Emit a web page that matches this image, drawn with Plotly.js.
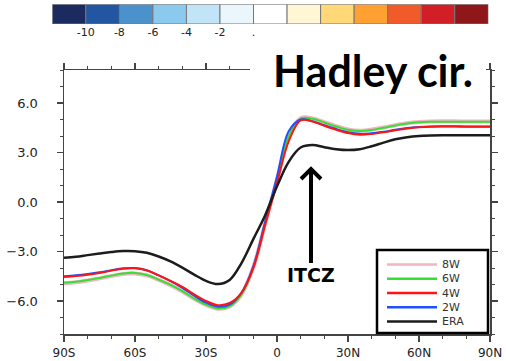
<!DOCTYPE html>
<html><head><meta charset="utf-8">
<script src="https://cdn.plot.ly/plotly-3.0.1.min.js"></script>
<style>html,body{margin:0;padding:0;background:#fff}#chart{width:506px;height:361px}</style>
</head><body><div id="chart"></div>
<script>
// ---- data ----
const lat = [-90,-85,-80,-75,-70,-65,-60,-55,-50,-45,-40,-35,-30,-25,-20,-15,-10,-5,0,5,10,15,20,25,30,35,40,45,50,55,60,65,70,75,80,85,90];
const w8  = [-4.93,-4.86,-4.76,-4.63,-4.49,-4.36,-4.33,-4.45,-4.72,-5.04,-5.42,-5.87,-6.24,-6.47,-6.33,-5.6,-3.95,-1.3,1.35,3.95,5.08,5.07,4.84,4.6,4.4,4.32,4.39,4.52,4.66,4.78,4.85,4.88,4.89,4.89,4.88,4.88,4.88];
const w6  = [-4.9,-4.83,-4.73,-4.6,-4.46,-4.33,-4.3,-4.42,-4.7,-5.02,-5.4,-5.85,-6.22,-6.45,-6.32,-5.6,-3.95,-1.25,1.4,4.0,5.05,5.05,4.82,4.58,4.38,4.3,4.37,4.5,4.64,4.76,4.83,4.86,4.87,4.87,4.86,4.86,4.86];
const w4  = [-4.55,-4.49,-4.41,-4.3,-4.16,-4.04,-4.02,-4.15,-4.45,-4.78,-5.15,-5.6,-6.0,-6.25,-6.12,-5.5,-4.0,-1.4,1.15,3.7,4.95,4.88,4.62,4.38,4.18,4.08,4.12,4.22,4.35,4.46,4.53,4.56,4.57,4.57,4.56,4.56,4.56];
const w2  = [-4.5,-4.44,-4.36,-4.26,-4.13,-4.02,-4.0,-4.13,-4.45,-4.8,-5.2,-5.68,-6.1,-6.35,-6.22,-5.5,-3.9,-1.2,1.55,4.3,5.0,4.9,4.65,4.42,4.23,4.13,4.16,4.26,4.38,4.49,4.55,4.58,4.59,4.59,4.58,4.58,4.58];
const era = [-3.38,-3.32,-3.22,-3.12,-3.03,-2.97,-2.98,-3.08,-3.3,-3.6,-3.98,-4.4,-4.78,-4.97,-4.72,-3.7,-2.25,-0.8,0.95,2.45,3.3,3.45,3.32,3.2,3.15,3.2,3.38,3.6,3.8,3.93,4.0,4.03,4.04,4.04,4.04,4.04,4.04];

const seriesNames  = ['8W','6W','4W','2W','ERA'];
const seriesValues = [w8, w6, w4, w2, era];
const seriesColors = ['#f4b4c0','#33e033','#ff1414','#1f4fff','#1c1c1c'];
const seriesWidths = [4, 2, 2, 2, 2.5];
const drawOrder    = [0, 1, 3, 2, 4];

const xTickVals = [-90,-60,-30,0,30,60,90];
const xTickText = ['90S','60S','30S','0','30N','60N','90N'];

const cbarColors = ['#1b2a5f','#2256a2','#4b92cd','#8bc9ee','#c1e4f6','#eaf5fc','#ffffff','#fff6d6','#ffd877','#ffa132','#f05b29','#d21f27','#8f1619'];
const cbarCenters = [-11,-9,-7,-5,-3,-1,1,3,5,7,9,11,13];
const cbarTickVals = [-10,-8,-6,-4,-2,0];
const cbarTickText = ['-10','-8','-6','-4','-2','.'];

// ---- helpers: pixel -> paper ----
const W = 506, H = 361;
const px = x => x / W;
const py = y => 1 - y / H;

const traces = [];
drawOrder.forEach(i => {
  traces.push({
    type: 'scatter', mode: 'lines', x: lat, y: seriesValues[i], name: seriesNames[i],
    line: {color: seriesColors[i], width: seriesWidths[i], shape: 'spline', smoothing: 1},
    xaxis: 'x', yaxis: 'y', showlegend: false, hoverinfo: 'skip'
  });
});
traces.push({
  type: 'bar', x: cbarCenters, y: cbarCenters.map(() => 1), width: 2,
  marker: {color: cbarColors, line: {color: '#777', width: 1}},
  xaxis: 'x2', yaxis: 'y2', showlegend: false, hoverinfo: 'skip'
});

const tickFont = {family: 'DejaVu Sans, Arial, sans-serif', size: 13, color: '#222'};
const xTickFont = {family: 'DejaVu Sans, Arial, sans-serif', size: 12, color: '#222'};

const shapes = [];
const annotations = [];

// legend box
shapes.push({type: 'rect', xref: 'paper', yref: 'paper', x0: px(377), x1: px(488), y0: py(333), y1: py(250),
  line: {color: '#000', width: 2.5}, fillcolor: '#fff', layer: 'above'});
const legFont = 11, legLine = legFont * 1.3, legMid = 293;
seriesNames.forEach((n, i) => {
  const yy = legMid + (i - 2) * legLine;
  shapes.push({type: 'line', xref: 'paper', yref: 'paper', x0: px(387), x1: px(437), y0: py(yy), y1: py(yy),
    line: {color: seriesColors[i], width: 2.5}, layer: 'above'});
});
annotations.push({xref: 'paper', yref: 'paper', x: px(441), y: py(legMid), xanchor: 'left', yanchor: 'middle',
  align: 'left', borderpad: 0, text: seriesNames.join('<br>'), showarrow: false,
  font: {family: 'DejaVu Sans, Arial, sans-serif', size: legFont, color: '#333'}});

// white box behind title
shapes.push({type: 'rect', xref: 'paper', yref: 'paper', x0: px(250), x1: px(486), y0: py(94), y1: py(44),
  line: {width: 0}, fillcolor: '#fff', layer: 'above'});
annotations.push({xref: 'paper', yref: 'paper', x: px(373), y: py(70), xanchor: 'center', yanchor: 'middle',
  text: '<b>Hadley cir.</b>', showarrow: false, font: {family: 'Lato, Carlito, sans-serif', size: 43, color: '#000'}});

// ITCZ arrow
shapes.push({type: 'line', xref: 'paper', yref: 'paper', x0: px(311), x1: px(311), y0: py(263), y1: py(170),
  line: {color: '#000', width: 4}, layer: 'above'});
shapes.push({type: 'path', xref: 'paper', yref: 'paper',
  path: `M${px(301)},${py(179)} L${px(311)},${py(169)} L${px(321)},${py(179)}`,
  line: {color: '#000', width: 4}, layer: 'above'});
annotations.push({xref: 'paper', yref: 'paper', x: px(311), y: py(275), xanchor: 'center', yanchor: 'middle',
  text: '<b>ITCZ</b>', showarrow: false, font: {family: 'DejaVu Sans, Arial, sans-serif', size: 19, color: '#000'}});

const axisLine = {showline: true, linecolor: '#444', linewidth: 1.5, mirror: 'ticks', zeroline: false, showgrid: false,
  ticks: 'outside', ticklen: 6, tickwidth: 1.5, tickcolor: '#444'};

const layout = {
  width: W, height: H,
  margin: {l: 0, r: 0, t: 0, b: 0},
  paper_bgcolor: '#fff', plot_bgcolor: '#fff',
  showlegend: false,
  xaxis: Object.assign({}, axisLine, {
    domain: [px(64), px(490)], range: [-90, 90], tickmode: 'array', tickvals: xTickVals, ticktext: xTickText,
    tickfont: xTickFont, ticklabelstandoff: 1,
    minor: {dtick: 10, ticklen: 3, tickwidth: 1, tickcolor: '#444', ticks: 'outside'}
  }),
  yaxis: Object.assign({}, axisLine, {
    domain: [py(334), py(70)], range: [-8, 8], tickmode: 'linear', tick0: 0, dtick: 3, tickformat: '.1f',
    tickfont: tickFont, ticklabelstandoff: 16,
    minor: {dtick: 1, ticklen: 3, tickwidth: 1, tickcolor: '#444', ticks: 'outside'}
  }),
  xaxis2: {
    domain: [px(52.3), px(488.3)], range: [-12, 14], anchor: 'y2', showline: false, showgrid: false, zeroline: false,
    tickmode: 'array', tickvals: cbarTickVals, ticktext: cbarTickText, ticks: '',
    tickfont: {family: 'DejaVu Sans, Arial, sans-serif', size: 11, color: '#222'}
  },
  yaxis2: {
    domain: [py(24), py(4.3)], range: [0, 1], anchor: 'x2', showline: false, showgrid: false, zeroline: false,
    showticklabels: false, ticks: ''
  },
  bargap: 0,
  shapes: shapes,
  annotations: annotations
};

Plotly.newPlot('chart', traces, layout, {staticPlot: true, displayModeBar: false});
</script>
</body></html>
